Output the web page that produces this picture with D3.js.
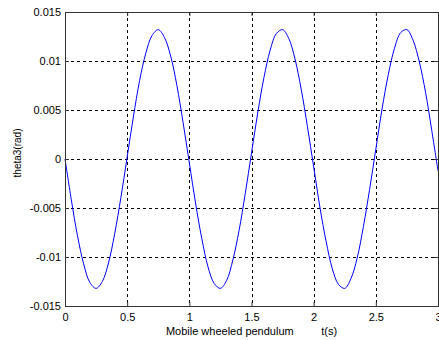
<!DOCTYPE html>
<html>
<head>
<meta charset="utf-8">
<script src="https://cdn.jsdelivr.net/npm/d3@7"></script>
<style>
  body { margin: 0; background: #fff; }
  text { font-family: "Liberation Sans", Arial, sans-serif; fill: #000; }
</style>
</head>
<body>
<div id="chart"></div>
<script>
const timeStep = 0.05;
const theta3 = [
  0, -0.0041, -0.0078, -0.0107, -0.0126, -0.0132, -0.0125, -0.0106, -0.0076, -0.0039,
  0.0002, 0.0043, 0.0080, 0.0108, 0.0126, 0.0132, 0.0124, 0.0105, 0.0075, 0.0037,
  -0.0004, -0.0045, -0.0081, -0.0110, -0.0127, -0.0132, -0.0124, -0.0103, -0.0073, -0.0035,
  0.0006, 0.0047, 0.0083, 0.0111, 0.0128, 0.0132, 0.0123, 0.0102, 0.0071, 0.0033,
  -0.0008, -0.0049, -0.0084, -0.0112, -0.0128, -0.0132, -0.0122, -0.0101, -0.0069, -0.0031,
  0.0010, 0.0051, 0.0086, 0.0113, 0.0129, 0.0132, 0.0121, 0.0099, 0.0068, 0.0029,
  -0.0012
];
const xTicks = [0, 0.5, 1, 1.5, 2, 2.5, 3];
const yTicks = [-0.015, -0.01, -0.005, 0, 0.005, 0.01, 0.015];
const xTickLabels = ["0", "0.5", "1", "1.5", "2", "2.5", "3"];
const yTickLabels = ["-0.015", "-0.01", "-0.005", "0", "0.005", "0.01", "0.015"];

const W = 439, H = 340;
const margin = {left: 65, top: 12, right: 1, bottom: 34};
const w = W - margin.left - margin.right;
const h = H - margin.top - margin.bottom;

const svg = d3.select("#chart").append("svg")
  .attr("width", W)
  .attr("height", H);

const g = svg.append("g")
  .attr("transform", `translate(${margin.left},${margin.top})`);

const x = d3.scaleLinear().domain([0, 3]).range([0, w]);
const y = d3.scaleLinear().domain([-0.015, 0.015]).range([h, 0]);

// grid
g.append("g").selectAll("line").data(xTicks.slice(1, -1)).join("line")
  .attr("x1", d => Math.round(x(d)) + 0.5).attr("x2", d => Math.round(x(d)) + 0.5)
  .attr("y1", 0).attr("y2", h)
  .attr("stroke", "#000").attr("stroke-dasharray", "3,3");
g.append("g").selectAll("line").data(yTicks.slice(1, -1)).join("line")
  .attr("y1", d => Math.round(y(d)) + 0.5).attr("y2", d => Math.round(y(d)) + 0.5)
  .attr("x1", 0).attr("x2", w)
  .attr("stroke", "#000").attr("stroke-dasharray", "3,3");

// curve
const pts = theta3.map((v, i) => [i * timeStep, v]);
g.append("path")
  .datum(pts)
  .attr("fill", "none")
  .attr("stroke", "#0000ff")
  .attr("stroke-width", 1)
  .attr("d", d3.line().curve(d3.curveCatmullRom).x(d => x(d[0])).y(d => y(d[1])));

// axes, ticks inward like matlab
const xAxis = d3.axisBottom(x).tickValues(xTicks).tickSize(-4)
  .tickFormat((d, i) => xTickLabels[i]).tickPadding(7);
const yAxis = d3.axisLeft(y).tickValues(yTicks).tickSize(-4)
  .tickFormat((d, i) => yTickLabels[i]).tickPadding(4);

const xg = g.append("g").attr("transform", `translate(0,${h})`).call(xAxis);
const yg = g.append("g").call(yAxis);
g.append("g").attr("transform", `translate(0,0)`)
  .call(d3.axisTop(x).tickValues(xTicks).tickSize(-4).tickFormat(""));
g.append("g").attr("transform", `translate(${w},0)`)
  .call(d3.axisRight(y).tickValues(yTicks).tickSize(-4).tickFormat(""));

g.selectAll(".domain").attr("stroke", "#333");
g.selectAll(".tick line").attr("stroke", "#333");
g.selectAll(".tick text").style("font-size", "11px").attr("fill", "#000");

// labels
svg.append("text")
  .attr("x", margin.left + w / 2)
  .attr("y", 335)
  .attr("text-anchor", "middle")
  .style("font-size", "11px")
  .style("white-space", "pre")
  .text("Mobile wheeled pendulum         t(s)");

svg.append("text")
  .attr("transform", "translate(21,153) rotate(-90)")
  .attr("text-anchor", "middle")
  .style("font-size", "10px")
  .text("theta3(rad)");
</script>
</body>
</html>
